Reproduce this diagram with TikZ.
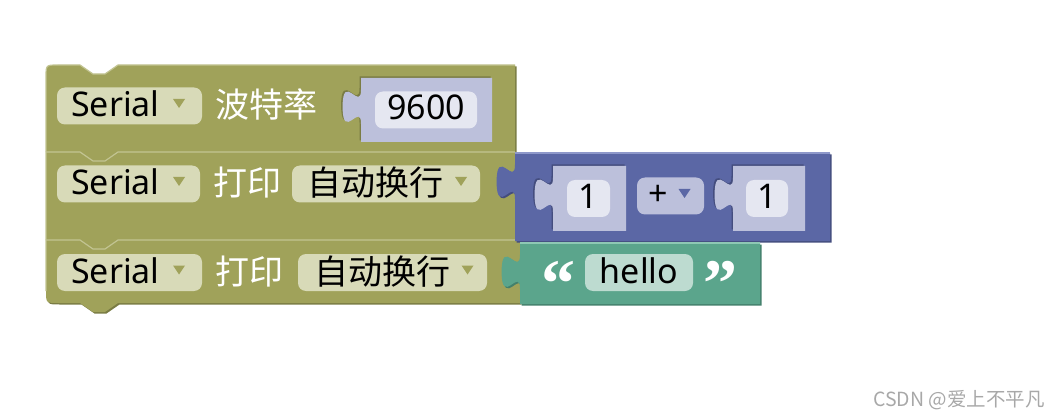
\documentclass[tikz,border=0pt]{standalone}
\usepackage{fontspec}
\setmainfont{Noto Sans}
\newfontfamily\cjk{Noto Sans CJK SC}
\newfontfamily\quotefont{Liberation Serif}
\definecolor{blkolive}{RGB}{160,162,90}
\definecolor{blkolivedk}{RGB}{122,124,68}
\definecolor{blkolivelt}{RGB}{194,196,146}
\definecolor{fldolive}{RGB}{216,218,184}
\definecolor{blkmath}{RGB}{91,103,165}
\definecolor{blkmathdk}{RGB}{68,77,126}
\definecolor{blkmathlt}{RGB}{142,152,202}
\definecolor{shdmath}{RGB}{188,192,219}
\definecolor{fldmath}{RGB}{229,231,241}
\definecolor{blktext}{RGB}{91,165,140}
\definecolor{blktextdk}{RGB}{68,128,108}
\definecolor{blktextlt}{RGB}{142,200,180}
\definecolor{fldtext}{RGB}{189,219,208}
\definecolor{wmarkgray}{RGB}{168,168,168}
\tikzset{
  fieldbox/.style={rounded corners=8pt, inner sep=0pt, minimum height=37pt},
  fieldtxt/.style={font=\fontsize{34}{40}\selectfont, text=black, inner sep=0pt, anchor=base},
  lbltxt/.style={font=\cjk\fontsize{34}{40}\selectfont, text=white, inner sep=0pt, anchor=base west},
  optxt/.style={font=\cjk\fontsize{34}{40}\selectfont, text=black, inner sep=0pt, anchor=base west},
  quotetxt/.style={font=\quotefont\bfseries\fontsize{68}{68}\selectfont, text=white, inner sep=0pt, anchor=base},
  hilite/.style={line width=1.2pt, line join=round},
  wmark/.style={font=\cjk\fontsize{19.5}{22}\selectfont, text=wmarkgray, inner sep=0pt, anchor=base west},
}
% notch on a block top (left to right) and tab on its bottom (right to left)
\newcommand\notchedge[2]{(80,#1) -- (93,#1+9) -- (105,#1+9) -- (118,#1) -- (#2,#1)}
\newcommand\tabedge[1]{(118,#1) -- (105,#1+9) -- (93,#1+9) -- (80,#1)}
% value block with jigsaw tab: left, top, right, bottom
\newcommand\valblk[4]{(#3,#2) -- (#1,#2) -- (#1,#2+11.5) .. controls (#1,#2+34.5) and (#1-18.4,#2-6.9) .. (#1-18.4,#2+28.75) .. controls (#1-18.4,#2+64.4) and (#1,#2+23) .. (#1,#2+46) -- (#1,#4) -- (#3,#4) -- cycle}
\newcommand\ddarrow[3]{\fill[#3] (#1-6,#2-7) -- (#1+6,#2-7) -- (#1,#2+2) -- cycle;}
\newcommand\blkbaud{(46,152) -- (46,77) .. controls (46,65) .. (58,65) -- \notchedge{65}{515} -- (515,152) -- \tabedge{152} -- cycle}
\newcommand\blkprintA{(46,240) -- (46,152) -- \notchedge{152}{515} -- (515,240) -- \tabedge{240} -- cycle}
\newcommand\blkprintB{(46,291) -- (46,240) -- \notchedge{240}{520} -- (520,303) -- \tabedge{303} -- (58,303) .. controls (46,303) .. (46,291) -- cycle}

\begin{document}
\begin{tikzpicture}[x=1pt, y=-1pt]
  \useasboundingbox (0,0) rectangle (1060,414);
  % statement blocks
  \fill[blkolivedk, shift={(1.5,1.5)}] \blkbaud;
  \fill[blkolive] \blkbaud;
  \fill[blkolivedk, shift={(1.5,1.5)}] \blkprintA;
  \fill[blkolive] \blkprintA;
  \fill[blkolivedk, shift={(1.5,1.5)}] \blkprintB;
  \fill[blkolive] \blkprintB;
  \draw[hilite, blkolivelt] (46,152) -- (46,77) .. controls (46,65) .. (58,65) -- \notchedge{65}{515};
  \draw[hilite, blkolivelt] (46,240) -- (46,152) -- \notchedge{152}{515};
  \draw[hilite, blkolivelt] (46,291) -- (46,240) -- \notchedge{240}{520};

  % Serial.begin
  \node[fieldbox, fill=fldolive, minimum width=145pt] (serA) at (129.5,106) {};
  \node[fieldtxt, anchor=base west] (serAt) at (71,117) {Serial};
  \ddarrow{179}{106}{blkolive}
  \node[lbltxt] (baud) at (215,118) {波特率};
  \fill[blkolivedk, shift={(-1.5,-1.5)}] \valblk{361}{78}{492}{142};
  \fill[shdmath] \valblk{361}{78}{492}{142};
  \node[fieldbox, fill=fldmath, minimum width=102pt] (rate) at (426,110) {};
  \node[fieldtxt] (ratet) at (426,120) {9600};

  % Serial.println(1 + 1)
  \node[fieldbox, fill=fldolive, minimum width=143pt] (serB) at (128.5,184) {};
  \node[fieldtxt, anchor=base west] (serBt) at (71,195) {Serial};
  \ddarrow{179}{184}{blkolive}
  \node[lbltxt] (prnB) at (213,196) {打印};
  \node[fieldbox, fill=fldolive, minimum width=188pt] (modeB) at (386,184) {};
  \node[optxt] (modeBt) at (307,196) {自动换行};
  \ddarrow{461}{184}{blkolive}
  \fill[blkmathdk, shift={(1.5,1.5)}] \valblk{515}{153}{830}{241};
  \fill[blkmath] \valblk{515}{153}{830}{241};
  \draw[hilite, blkmathlt] (515,153) -- (830,153);
  \fill[blkmathdk, shift={(-1.5,-1.5)}] \valblk{553}{166}{626}{231};
  \fill[shdmath] \valblk{553}{166}{626}{231};
  \node[fieldbox, fill=fldmath, minimum width=43pt] (numA) at (588.5,198.5) {};
  \node[fieldtxt] (numAt) at (588.5,209) {1};
  \node[fieldbox, fill=shdmath, minimum width=67pt] (op) at (670.5,196) {};
  \node[fieldtxt] (opt) at (658.5,206) {+};
  \ddarrow{684.5}{196}{blkmath}
  \fill[blkmathdk, shift={(-1.5,-1.5)}] \valblk{733}{166}{805}{231};
  \fill[shdmath] \valblk{733}{166}{805}{231};
  \node[fieldbox, fill=fldmath, minimum width=42pt] (numB) at (767,198.5) {};
  \node[fieldtxt] (numBt) at (767,209) {1};

  % Serial.println("hello")
  \node[fieldbox, fill=fldolive, minimum width=145pt] (serC) at (129.5,272.5) {};
  \node[fieldtxt, anchor=base west] (serCt) at (71,283) {Serial};
  \ddarrow{179}{272.5}{blkolive}
  \node[lbltxt] (prnC) at (215,284) {打印};
  \node[fieldbox, fill=fldolive, minimum width=189pt] (modeC) at (392.5,272.5) {};
  \node[optxt] (modeCt) at (314,284) {自动换行};
  \ddarrow{467.5}{272.5}{blkolive}
  \fill[blktextdk, shift={(1.5,1.5)}] \valblk{520}{243}{760}{304};
  \fill[blktext] \valblk{520}{243}{760}{304};
  \draw[hilite, blktextlt] (520,243) -- (760,243);
  \node[quotetxt] (qopen) at (558,306) {“};
  \node[fieldbox, fill=fldtext, minimum width=108pt] (str) at (639,272.5) {};
  \node[fieldtxt] (strt) at (639,283) {hello};
  \node[quotetxt] (qclose) at (720,306) {”};

  \node[wmark] (csdn) at (873,406) {CSDN @爱上不平凡};
\end{tikzpicture}
\end{document}
